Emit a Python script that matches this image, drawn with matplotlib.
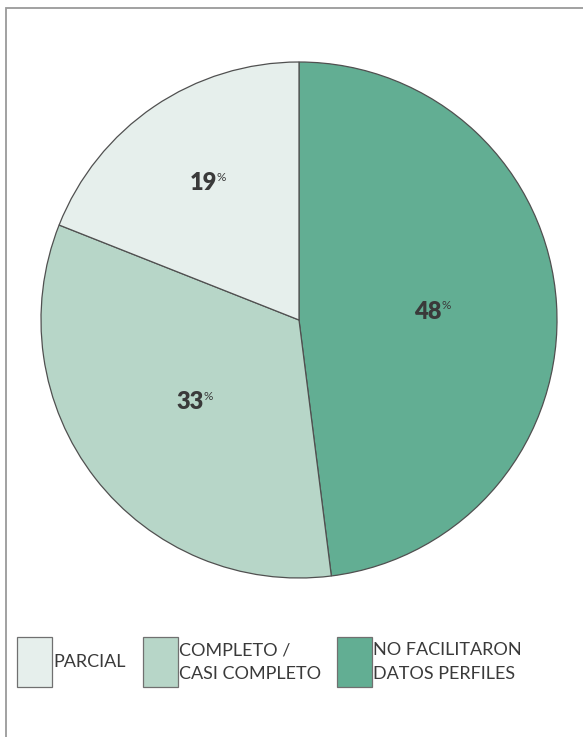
import matplotlib.pyplot as plt
import numpy as np
from matplotlib.patches import Rectangle

# data
labels = ['NO FACILITARON\nDATOS PERFILES', 'COMPLETO /\nCASI COMPLETO', 'PARCIAL']
values = [48, 33, 19]
colors = ['#62ae93', '#b7d6c8', '#e6efec']
pct_dist = [0.51, 0.52, 0.64]

plt.rcParams['font.family'] = ['Lato', 'DejaVu Sans']

W, H = 583, 737
fig = plt.figure(figsize=(W / 100, H / 100), dpi=100)

# outer frame, runs off the right and bottom edges
fig.patches.append(Rectangle((6 / W, -0.1), 1.2, (H - 8) / H + 0.1,
                             transform=fig.transFigure, fill=False,
                             edgecolor='#9a9a9a', lw=1.3))

cx, cy, r = 299, H - 320, 258
ax = fig.add_axes([(cx - r) / W, (cy - r) / H, 2 * r / W, 2 * r / H])
wedges, _ = ax.pie(values, colors=colors, startangle=90, counterclock=False,
                   wedgeprops=dict(edgecolor='#505050', linewidth=0.9))
ax.set_xlim(-1, 1)
ax.set_ylim(-1, 1)
ax.set_aspect('equal')
ax.axis('off')

for w, v, d in zip(wedges, values, pct_dist):
    ang = np.deg2rad((w.theta1 + w.theta2) / 2)
    t = ax.text(d * np.cos(ang) - 0.01, d * np.sin(ang), str(v), ha='center', va='center',
                fontsize=17, fontweight='heavy', color='#3a3a3a')
    ax.annotate('%', xy=(1, 1), xycoords=t, xytext=(-0.3, 0.5), textcoords='offset points',
                ha='left', va='top', fontsize=8.5, color='#3a3a3a')

# legend
boxes_x = [17, 143, 337]
order = [2, 1, 0]
for bx, i in zip(boxes_x, order):
    fig.patches.append(Rectangle((bx / W, (H - 687) / H), 35 / W, 50 / H,
                                 transform=fig.transFigure, facecolor=colors[i],
                                 edgecolor='#707070', lw=0.9))
    fig.text((bx + 36) / W, (H - 662) / H, labels[i], ha='left', va='center',
             fontsize=13, color='#3a3a3a', linespacing=1.6)

fig.savefig('out.png', dpi=100)
